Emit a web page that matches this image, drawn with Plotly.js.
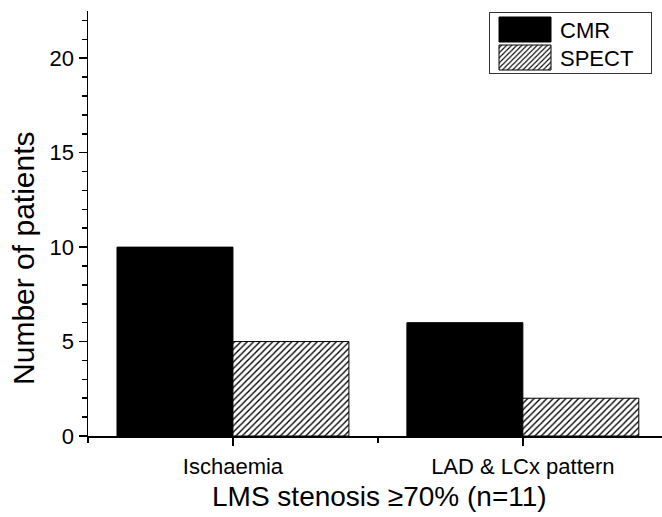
<!DOCTYPE html>
<html>
<head>
<meta charset="utf-8">
<script src="https://cdn.plot.ly/plotly-3.0.1.min.js"></script>
<style>
  html, body { margin: 0; padding: 0; background: #fff; }
  #chart { width: 662px; height: 517px; }
</style>
</head>
<body>
<div id="chart"></div>
<script>
// ---- data ----
const categories = ["Ischaemia", "LAD & LCx pattern"];
const cmrValues = [10, 6];
const spectValues = [5, 2];
const seriesNames = ["CMR", "SPECT"];
const xTitle = "LMS stenosis \u226570% (n=11)";
const yTitle = "Number of patients";
const yTickValues = [0, 5, 10, 15, 20];

const positions = categories.map((c, i) => i);
const FONT = "Liberation Sans, Arial, sans-serif";

const traces = [
  {
    type: "bar",
    name: seriesNames[0],
    x: positions,
    y: cmrValues,
    marker: { color: "#000000", line: { color: "#000000", width: 1 } },
    hoverinfo: "skip"
  },
  {
    type: "bar",
    name: seriesNames[1],
    x: positions,
    y: spectValues,
    marker: {
      color: "#ffffff",
      line: { color: "#000000", width: 1 },
      pattern: { shape: "/", fgcolor: "#000000", bgcolor: "#ffffff", size: 4.5, solidity: 0.3 }
    },
    hoverinfo: "skip"
  }
];

const layout = {
  width: 662,
  height: 517,
  margin: { l: 88, r: 0, t: 11, b: 81 },
  paper_bgcolor: "#ffffff",
  plot_bgcolor: "#ffffff",
  barmode: "group",
  bargap: 0.2,
  bargroupgap: 0,
  font: { family: FONT, color: "#000000", size: 22 },
  showlegend: true,
  legend: {
    x: 0.981, xanchor: "right",
    y: 0.997, yanchor: "top",
    bordercolor: "#333333",
    borderwidth: 1,
    bgcolor: "#ffffff",
    itemwidth: 60,
    font: { family: FONT, size: 22, color: "#000000" },
    traceorder: "normal"
  },
  xaxis: {
    range: [-0.5, 1.48],
    tickmode: "array",
    tickvals: positions,
    ticktext: categories,
    ticks: "outside",
    ticklen: 8,
    tickwidth: 1.5,
    tickcolor: "#000000",
    ticklabelstandoff: 2,
    showline: true,
    linecolor: "#000000",
    linewidth: 1.5,
    showgrid: false,
    zeroline: false,
    tickfont: { family: FONT, size: 22 },
    minor: { tickmode: "linear", tick0: 0.5, dtick: 1, ticks: "outside", ticklen: 5, tickwidth: 1.5, tickcolor: "#000000", showgrid: false },
    fixedrange: true
  },
  yaxis: {
    range: [0, 22.5],
    tickmode: "array",
    tickvals: yTickValues,
    ticks: "outside",
    ticklen: 8,
    tickwidth: 1.5,
    tickcolor: "#000000",
    showline: true,
    linecolor: "#000000",
    linewidth: 1.5,
    showgrid: false,
    zeroline: false,
    tickfont: { family: FONT, size: 22 },
    minor: { tickmode: "linear", tick0: 0, dtick: 1, ticks: "outside", ticklen: 5, tickwidth: 1.5, tickcolor: "#000000", showgrid: false },
    fixedrange: true
  },
  annotations: [
    {
      text: yTitle,
      textangle: -90,
      xref: "paper", yref: "paper",
      x: -0.1115, y: 0.419,
      xanchor: "center", yanchor: "middle",
      showarrow: false,
      font: { family: FONT, size: 30, color: "#000000" }
    },
    {
      text: xTitle,
      xref: "paper", yref: "paper",
      x: 0.5087, y: -0.1435,
      xanchor: "center", yanchor: "middle",
      showarrow: false,
      font: { family: FONT, size: 28, color: "#000000" }
    }
  ]
};

Plotly.newPlot("chart", traces, layout, { displayModeBar: false, staticPlot: true }).then(function (gd) {
  const legend = gd.querySelector(".legend");
  if (!legend) return;
  // place and size the legend box like the reference
  legend.setAttribute("transform", "translate(489,12)");
  const bg = legend.querySelector("rect.bg");
  if (bg) {
    bg.setAttribute("width", 162);
    bg.setAttribute("height", 61);
  }
  const clips = gd.querySelectorAll("clipPath[id^='legend'] rect");
  clips.forEach(function (r) { r.setAttribute("width", 170); r.setAttribute("height", 70); });
  const items = legend.querySelectorAll(".traces");
  const rowY = [17.5, 45.5];
  items.forEach(function (g, i) {
    g.setAttribute("transform", "translate(1," + rowY[i] + ")");
  });
  // wide rectangular swatches
  legend.querySelectorAll(".legendpoints path").forEach(function (p) {
    p.setAttribute("d", "M-26,12.5H26V-12.5H-26Z");
  });
});
</script>
</body>
</html>
